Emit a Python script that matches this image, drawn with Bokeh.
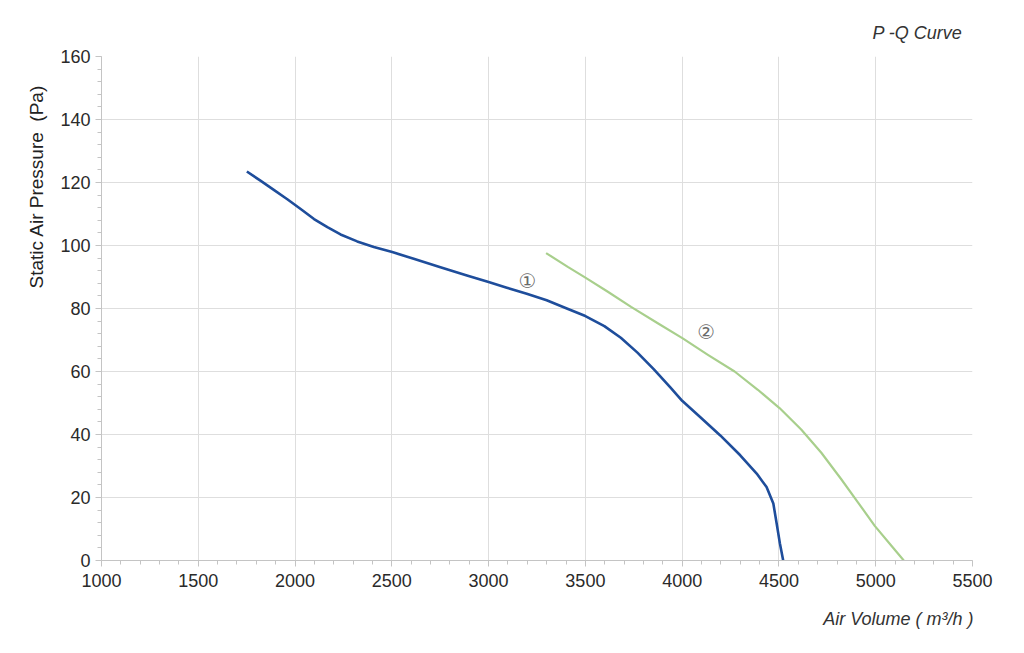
from bokeh.plotting import figure
from bokeh.models import Range1d, SingleIntervalTicker, Label, Title
from bokeh.embed import file_html
from bokeh.resources import INLINE

# Curve 1 (blue)
q1 = [1751, 1823, 1892, 1960, 2029, 2098, 2167, 2235, 2321, 2407, 2502, 2613,
      2751, 2888, 3000, 3094, 3197, 3300, 3404, 3500, 3598, 3683, 3769, 3854,
      3940, 4000, 4094, 4197, 4300, 4385, 4436, 4471, 4488, 4505, 4522]
p1 = [123.5, 120.5, 117.6, 114.7, 111.6, 108.4, 105.8, 103.5, 101.3, 99.5, 97.9, 95.8,
      93.1, 90.5, 88.4, 86.6, 84.7, 82.6, 80.0, 77.6, 74.4, 70.7, 66.0, 60.7,
      54.9, 50.7, 45.5, 39.7, 33.4, 27.6, 23.3, 18.1, 11.8, 5.4, 0.0]

# Curve 2 (green)
q2 = [3297, 3409, 3500, 3616, 3736, 3874, 4003, 4133, 4271, 4391, 4503, 4615,
      4719, 4822, 4909, 4995, 5081, 5145]
p2 = [97.6, 93.2, 89.8, 85.3, 80.5, 75.3, 70.5, 65.3, 60.0, 54.2, 48.4, 41.6,
      34.2, 25.8, 18.4, 11.0, 4.7, 0.0]

curve_labels = ["\u2460", "\u2461"]
label_q = [3201, 4124]
label_p = [88.7, 72.6]

title_text = "P -Q Curve"
x_title = "Air Volume ( m\u00b3/h )"
y_title = "Static Air Pressure\u00a0 (Pa)"

FONT = "Liberation Sans"
GRID = "#dedede"
AX = "#c4c4c4"

p = figure(frame_width=871, frame_height=504,
           min_border_left=101, min_border_right=44,
           min_border_top=56, min_border_bottom=85,
           x_range=Range1d(1000, 5500), y_range=Range1d(0, 160),
           output_backend="svg", toolbar_location=None,
           background_fill_color="white", border_fill_color="white")
p.outline_line_color = None

p.xaxis.ticker = SingleIntervalTicker(interval=500, num_minor_ticks=5)
p.yaxis.ticker = SingleIntervalTicker(interval=20, num_minor_ticks=5)
p.xgrid.ticker = SingleIntervalTicker(interval=500)
p.ygrid.ticker = SingleIntervalTicker(interval=20)

for ax in (p.xaxis[0], p.yaxis[0]):
    ax.axis_line_color = AX
    ax.major_tick_line_color = AX
    ax.minor_tick_line_color = AX
    ax.major_tick_in = 0
    ax.major_tick_out = 6
    ax.minor_tick_in = 0
    ax.minor_tick_out = 4
    ax.major_label_text_font = FONT
    ax.major_label_text_font_size = "18px"
    ax.major_label_text_color = "#2a2a2a"
p.xaxis.major_label_standoff = 7
p.yaxis.major_label_standoff = 5

for g in (p.xgrid[0], p.ygrid[0]):
    g.grid_line_color = GRID
    g.grid_line_width = 1

p.line(q1, p1, line_color="#1e4d9b", line_width=2.6, line_join="round")
p.line(q2, p2, line_color="#a8cf8c", line_width=2.2, line_join="round")

for t, xq, yp in zip(curve_labels, label_q, label_p):
    p.add_layout(Label(x=xq, y=yp, text=t, text_font="DejaVu Sans",
                       text_font_size="20px", text_color="#6a6a6a",
                       text_align="center", text_baseline="middle"))

p.add_layout(Title(text=title_text, align="right", offset=10, standoff=28,
                   text_font=FONT, text_font_style="italic",
                   text_font_size="18px", text_color="#333333"), "above")
p.add_layout(Title(text=x_title, align="right", offset=-1, standoff=35,
                   text_font=FONT, text_font_style="italic",
                   text_font_size="18px", text_color="#333333"), "below")
p.add_layout(Title(text=y_title, align="left", offset=272, standoff=22,
                   text_font=FONT, text_font_style="normal",
                   text_font_size="19px", text_color="#222222"), "left")

open("out.html", "w").write(file_html(p, INLINE))
